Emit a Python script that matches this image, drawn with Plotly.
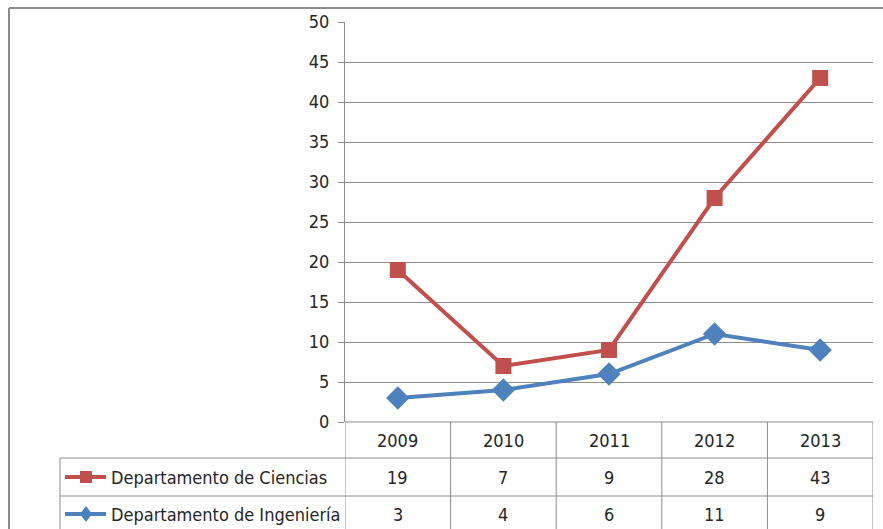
import plotly.graph_objects as go

years = ["2009", "2010", "2011", "2012", "2013"]
ciencias = [19, 7, 9, 28, 43]
ingenieria = [3, 4, 6, 11, 9]
series_names = ["Departamento de Ciencias", "Departamento de Ingeniería"]

W, H = 883, 529
RED = "#C0504D"
BLUE = "#4F81BD"
GRID = "#8C8C8C"
TXT = "#262626"
FONT = "Liberation Sans Narrow, DejaVu Sans Condensed, Arial Narrow, sans-serif"
FS = 18


def py(p):
    # pixel row -> paper y
    return 1 - p / H


def px(p):
    return p / W


xs = list(range(len(years)))

fig = go.Figure()

fig.add_trace(go.Scatter(
    x=xs, y=ciencias, name=series_names[0], mode="lines+markers",
    line=dict(color=RED, width=4),
    marker=dict(symbol="square", size=16, color=RED),
    showlegend=False,
))
fig.add_trace(go.Scatter(
    x=xs, y=ingenieria, name=series_names[1], mode="lines+markers",
    line=dict(color=BLUE, width=4),
    marker=dict(symbol="diamond", size=18, color=BLUE),
    showlegend=False,
))

fig.update_layout(
    width=W, height=H,
    margin=dict(l=0, r=0, t=0, b=0, pad=0),
    paper_bgcolor="white", plot_bgcolor="white",
    font=dict(family=FONT, size=FS, color=TXT),
    xaxis=dict(
        domain=[px(345), px(873)], range=[-0.5, 4.5],
        showticklabels=False, showgrid=False, zeroline=False, showline=False, ticks="",
        automargin=False,
    ),
    yaxis=dict(
        domain=[py(422), py(22)], range=[0, 50], dtick=5,
        showgrid=True, gridcolor=GRID, gridwidth=1, zeroline=False,
        showline=True, linecolor=GRID, linewidth=1,
        ticks="outside", ticklen=6, tickcolor=GRID, ticklabelstandoff=5,
        tickfont=dict(family=FONT, size=FS, color=TXT),
        automargin=False,
    ),
)

# outer chart border (top & left)
fig.add_shape(type="line", xref="paper", yref="paper", x0=px(9), x1=1, y0=py(8), y1=py(8),
              line=dict(color=GRID, width=2))
fig.add_shape(type="line", xref="paper", yref="paper", x0=px(9), x1=px(9), y0=py(8), y1=0,
              line=dict(color=GRID, width=2))

# data table grid
fig.add_shape(type="line", xref="x", yref="paper", x0=-0.5, x1=4.5, y0=py(422), y1=py(422),
              line=dict(color=GRID, width=1))
for ry in (458, 496):
    fig.add_shape(type="line", xref="paper", yref="paper", x0=px(60), x1=px(873), y0=py(ry), y1=py(ry),
                  line=dict(color=GRID, width=1))
for i in range(len(years) + 1):
    fig.add_shape(type="line", xref="x", yref="paper", x0=i - 0.5, x1=i - 0.5, y0=py(422), y1=0,
                  line=dict(color=GRID, width=1))
fig.add_shape(type="line", xref="paper", yref="paper", x0=px(60), x1=px(60), y0=py(458), y1=0,
              line=dict(color=GRID, width=1))

# table values
rows = [(years, 440), (ciencias, 477), (ingenieria, 514)]
for vals, ry in rows:
    for i, v in zip(xs, vals):
        fig.add_annotation(x=i, y=py(ry), xref="x", yref="paper", text=str(v),
                           showarrow=False, xanchor="center", yanchor="middle",
                           font=dict(family=FONT, size=FS, color=TXT))

# legend keys inside the table
for name, color, ry, sym in [(series_names[0], RED, 477, "square"), (series_names[1], BLUE, 514, "diamond")]:
    fig.add_shape(type="line", xref="paper", yref="paper", x0=px(65), x1=px(106), y0=py(ry), y1=py(ry),
                  line=dict(color=color, width=4))
    if sym == "square":
        fig.add_shape(type="rect", xref="paper", yref="paper", x0=px(80), x1=px(92), y0=py(ry + 6), y1=py(ry - 6),
                      line=dict(width=0), fillcolor=color)
    else:
        cx, cy = 86, ry
        path = (f"M {px(cx)} {py(cy - 8)} L {px(cx + 6)} {py(cy)} "
                f"L {px(cx)} {py(cy + 8)} L {px(cx - 6)} {py(cy)} Z")
        fig.add_shape(type="path", xref="paper", yref="paper", path=path,
                      line=dict(width=0), fillcolor=color)
    fig.add_annotation(x=px(109), y=py(ry), xref="paper", yref="paper", text=name,
                       showarrow=False, xanchor="left", yanchor="middle",
                       font=dict(family=FONT, size=FS, color=TXT))

fig.write_html("out.html", config={"displayModeBar": False},
               post_script="document.body.style.margin='0';")
